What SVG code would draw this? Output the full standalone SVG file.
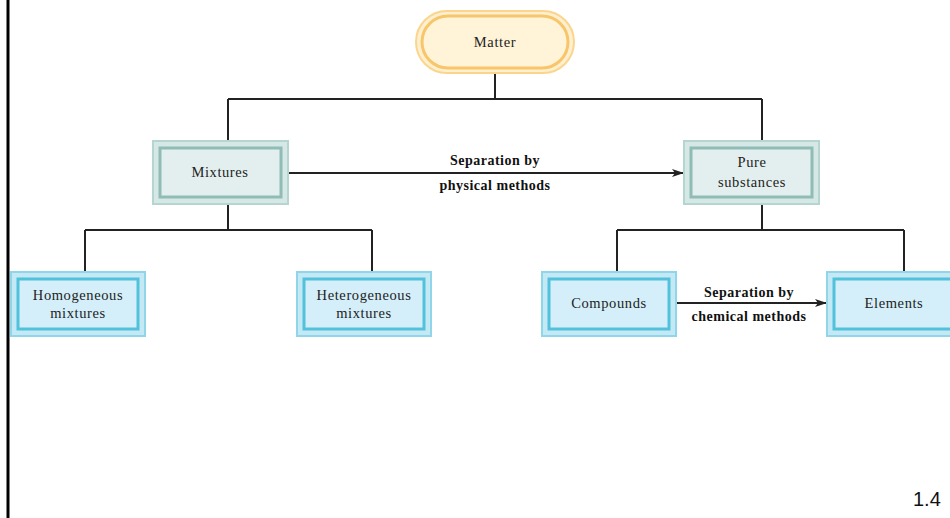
<svg xmlns="http://www.w3.org/2000/svg" width="950" height="518" viewBox="0 0 950 518">
<defs>
<style>
.t{font-family:"Liberation Serif","DejaVu Serif",serif;font-size:14.5px;letter-spacing:0.6px;fill:#222;text-anchor:middle}
.lb{font-family:"Liberation Serif","DejaVu Serif",serif;font-size:14px;letter-spacing:0.5px;fill:#111;text-anchor:middle;font-weight:bold}
.c{stroke:#222;stroke-width:2;fill:none}
.bo{fill:#c4e8f4;stroke:#8fd6ea;stroke-width:2}
.bi{fill:#d4eff9;stroke:#52c2dc;stroke-width:3}
.go{fill:#d6e8e6;stroke:#b5d5d1;stroke-width:2}
.gi{fill:#e3efee;stroke:#8fbcb6;stroke-width:3}
</style>
<marker id="ah" markerWidth="12" markerHeight="8" refX="11" refY="4" orient="auto" markerUnits="userSpaceOnUse">
<path d="M0,0 L12,4 L0,8 L3,4 Z" fill="#222"/>
</marker>
</defs>
<rect width="950" height="518" fill="#fff"/>
<line x1="8" y1="0" x2="8" y2="518" stroke="#000" stroke-width="3"/>
<g id="connectors">
<path class="c" d="M495,74 V99 M228,99 H762 M228,99 V140 M762,99 V140"/>
<path class="c" d="M228,205 V230 M85,230 H372 M85,230 V271 M372,230 V271"/>
<path class="c" d="M762,205 V230 M617,230 H904 M617,230 V271 M904,230 V271"/>
<line class="c" x1="289" y1="173" x2="683" y2="173" marker-end="url(#ah)"/>
<line class="c" x1="677" y1="303" x2="826" y2="303" marker-end="url(#ah)"/>
<text class="lb" x="495" y="165">Separation by</text>
<text class="lb" x="495" y="190">physical methods</text>
<text class="lb" x="749" y="297">Separation by</text>
<text class="lb" x="749" y="321">chemical methods</text>
</g>
<g id="matter">
<rect x="416" y="11" width="158" height="62" rx="31" fill="#fdefcf" stroke="#fbd58c" stroke-width="2"/>
<rect x="422" y="16" width="146" height="52" rx="26" fill="#fff3d8" stroke="#f8c66a" stroke-width="3"/>
<text class="t" x="495" y="47">Matter</text>
</g>
<g id="mixtures">
<rect class="go" x="153" y="141" width="135" height="63"/>
<rect class="gi" x="160" y="148" width="121" height="49"/>
<text class="t" x="220" y="177">Mixtures</text>
</g>
<g id="pure">
<rect class="go" x="684" y="141" width="135" height="63"/>
<rect class="gi" x="691" y="148" width="121" height="49"/>
<text class="t" x="752" y="167">Pure</text>
<text class="t" x="752" y="187">substances</text>
</g>
<g id="homogeneous">
<rect class="bo" x="11" y="272" width="134" height="64"/>
<rect class="bi" x="18" y="279" width="120" height="50"/>
<text class="t" x="78" y="300">Homogeneous</text>
<text class="t" x="78" y="318">mixtures</text>
</g>
<g id="heterogeneous">
<rect class="bo" x="297" y="272" width="134" height="64"/>
<rect class="bi" x="304" y="279" width="120" height="50"/>
<text class="t" x="364" y="300">Heterogeneous</text>
<text class="t" x="364" y="318">mixtures</text>
</g>
<g id="compounds">
<rect class="bo" x="542" y="272" width="134" height="64"/>
<rect class="bi" x="549" y="279" width="120" height="50"/>
<text class="t" x="609" y="308">Compounds</text>
</g>
<g id="elements">
<rect class="bo" x="827" y="272" width="134" height="64"/>
<rect class="bi" x="834" y="279" width="120" height="50"/>
<text class="t" x="894" y="308">Elements</text>
</g>
<text x="913" y="506" font-family="Liberation Sans, Arial, sans-serif" font-size="20" fill="#111">1.4</text>
</svg>
